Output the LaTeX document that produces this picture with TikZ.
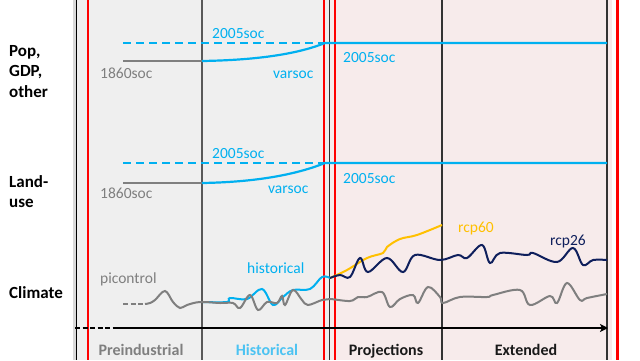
\documentclass[tikz,border=0pt]{standalone}
\usepackage{fontspec}
\setmainfont{Carlito}
\definecolor{socblue}{HTML}{00B0F0}
\definecolor{socgray}{HTML}{7F7F7F}
\definecolor{histblue}{HTML}{4CC3F2}
\definecolor{rcpyellow}{HTML}{FFC000}
\definecolor{rcpnavy}{HTML}{0F1F5C}
\definecolor{pastpanel}{HTML}{EFEFEF}
\definecolor{futpanel}{HTML}{F7EBEB}
\usetikzlibrary{arrows.meta}

\begin{document}
\begin{tikzpicture}[x=1pt,y=-1pt,
  rowlab/.style={anchor=north west,inner sep=0,align=left,
                 font=\fontsize{17}{20.5}\selectfont\bfseries},
  lab/.style={anchor=base west,inner sep=0,text=#1,
              font=\fontsize{15.5}{18}\selectfont},
  period/.style={anchor=base,inner sep=0,text=#1,
                 font=\fontsize{16}{19}\selectfont\bfseries},
  sepline/.style={draw=#1,line width=1.4pt},
  redline/.style={draw=red,line width=2.4pt},
  soc/.style={draw=socblue,line width=2.2pt},
  base/.style={draw=socgray,line width=2pt},
  clim/.style={draw=#1,line width=2pt,smooth,tension=0.6}
]
\useasboundingbox (0,0) rectangle (640,360);
\fill[pastpanel] (73,0) rectangle (330,360);
\fill[futpanel] (330,0) rectangle (612,360);
\fill[black!15] (73,0) rectangle (76,360);

\draw[sepline=black] (76.5,0) -- (76.5,360);
\draw[sepline=black!65] (202,0) -- (202,360);
\draw[sepline=black!80] (329.5,0) -- (329.5,360);
\draw[sepline=black!80] (442,0) -- (442,360);
\draw[sepline=black!80] (607,0) -- (607,360);
\draw[redline] (88,0) -- (88,360);
\draw[redline] (324,0) -- (324,360);
\draw[redline] (335,0) -- (335,360);
\draw[redline] (617.5,0) -- (617.5,360);

\node[rowlab] (popgdp) at (9,45) {Pop,\\GDP,\\other};
\node[rowlab] (landuse) at (9,175) {Land-\\use};
\node[rowlab,anchor=base west] (climate) at (9,298) {Climate};

\draw[soc,dashed,dash pattern=on 8pt off 5pt] (123,43) -- (325,43);
\draw[base] (123,61) -- (202,61);
\draw[soc] (202,61) .. controls (262,60) and (300,53) .. (325,43) -- (607,43);
\node[lab=socblue] (pre05a) at (212,38) {2005soc};
\node[lab=socgray] (soc1860a) at (100,78) {1860soc};
\node[lab=socblue] (varsoca) at (273,78) {varsoc};
\node[lab=socblue] (post05a) at (343,62) {2005soc};

\draw[soc,dashed,dash pattern=on 8pt off 5pt] (123,163) -- (325,163);
\draw[base] (123,183) -- (202,183);
\draw[soc] (202,183) .. controls (262,182) and (300,173) .. (325,163) -- (607,163);
\node[lab=socblue] (pre05b) at (212,158) {2005soc};
\node[lab=socgray] (soc1860b) at (100,198) {1860soc};
\node[lab=socblue] (varsocb) at (268,193) {varsoc};
\node[lab=socblue] (post05b) at (343,183) {2005soc};

\draw[clim=socblue] plot coordinates {(203,302) (227,302) (230,298) (247,299)
  (262,289) (273,305) (283,297) (293,290) (310,289) (322,277) (330,278)};
\draw[base,dashed,dash pattern=on 5pt off 2.5pt] (123,304) -- (145,304);
\draw[clim=socgray] plot coordinates {(145,304) (150,303) (155,300) (165,291)
  (173,302) (180,308) (187,305) (200,302) (220,303) (233,303) (240,308)
  (250,295) (258,310) (267,302) (277,303) (282,296) (285,305) (293,290)
  (302,300) (308,305) (322,300) (330,299) (350,301) (358,297) (367,297)
  (382,292) (390,307) (400,299) (413,295) (418,303) (428,287) (440,297)
  (443,303) (460,297) (487,297) (493,295) (520,290) (530,305) (550,296)
  (557,303) (567,283) (580,300) (587,298) (607,294)};
\draw[clim=rcpyellow] plot coordinates {(330,278) (347,270) (367,258) (383,253)
  (387,247) (400,239) (417,235) (442,225)};
\draw[clim=rcpnavy] plot coordinates {(330,278) (340,275) (350,277) (360,258)
  (368,272) (387,258) (403,272) (415,255) (440,260) (458,255) (467,258)
  (482,245) (490,263) (500,253) (527,255) (533,253) (557,262) (573,248)
  (583,265) (593,260) (607,260)};
\node[lab=socgray] (picontrol) at (100,283) {picontrol};
\node[lab=socblue] (historical) at (247,273) {historical};
\node[lab=rcpyellow] (rcp60) at (458,232) {rcp60};
\node[lab=rcpnavy] (rcp26) at (550,245) {rcp26};

\coordinate (tstart) at (75,328);
\coordinate (tsolid) at (117,328);
\coordinate (tend) at (608,328);
\draw[line width=1.4pt,dashed,dash pattern=on 5pt off 2.5pt] (tstart) -- (tsolid);
\draw[line width=1.4pt,-{Stealth[length=8pt,width=8pt,inset=2pt]}] (tsolid) -- (tend);

\node[period=socgray] (preind) at (141,355) {Preindustrial};
\node[period=histblue] (hist) at (267,355) {Historical};
\node[period=black!90] (proj) at (386,355) {Projections};
\node[period=black!90] (ext) at (526,355) {Extended};
\end{tikzpicture}
\end{document}
